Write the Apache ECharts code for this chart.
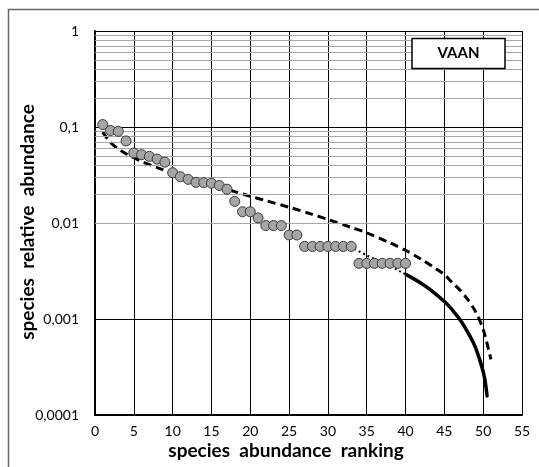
<!DOCTYPE html>
<html><head><meta charset="utf-8">
<script src="https://cdn.jsdelivr.net/npm/echarts@6/dist/echarts.min.js"></script>
<style>html,body{margin:0;padding:0;background:#fff}#c{width:539px;height:467px}</style>
</head><body><div id="c"></div>
<script>
// observed species (rank, relative abundance)
const ranks = [1,2,3,4,5,6,7,8,9,10,11,12,13,14,15,16,17,18,19,20,21,22,23,24,25,26,27,28,29,30,31,32,33,34,35,36,37,38,39,40];
const abundance = [0.106,0.092,0.090,0.0716,0.0537,0.0515,0.0494,0.0463,0.043,0.0334,
  0.0303,0.0285,0.0265,0.0263,0.026,0.0246,0.0225,0.0168,0.0131,0.0131,
  0.0113,0.0094,0.0094,0.0094,0.0075,0.0075,0.0057,0.0057,0.0057,0.0057,
  0.0057,0.0057,0.0057,0.0038,0.0038,0.0038,0.0038,0.0038,0.0038,0.0038];
// dashed model curve
const dashedRanks = [1,2,3,4,5,6,8,10,12,15,18,20,22,25,28,30,33,35,38,40,42,44,45,46,47,48,49,50,51];
const dashedValues = [0.0886,0.0690,0.0592,0.0527,0.0478,0.0438,0.0378,0.0331,0.0294,0.0249,0.0212,0.0190,0.0171,0.0146,0.0123,0.0109,0.0090,0.0079,0.0062,0.0052,0.0042,0.0033,0.0029,0.0024,0.0020,0.0016,0.0012,0.00078,0.00038];
// dotted fitted segment
const dottedRanks = [33.4,35,37,39.4,40.1];
const dottedValues = [0.0054,0.0046,0.0039,0.0031,0.0029];
// solid extrapolated curve
const solidRanks = [40.1,42,43.3,45,46,47.2,48.5,49,49.5,50.0,50.25,50.5];
const solidValues = [0.0029,0.00236,0.00199,0.00152,0.00125,0.000938,0.000617,0.000507,0.000389,0.000282,0.000226,0.000158];
// tick labels
const yTickLabels = ['0,0001','0,001','0,01','0,1','1'];
const xTitle = 'species  abundance  ranking';
const yTitle = 'species  relative  abundance';
const boxLabel = 'VAAN';

const minorLevels = [];
for (let e = -4; e < 0; e++) for (let m = 2; m <= 9; m++) minorLevels.push(+(m * Math.pow(10, e)).toPrecision(3));

const zip = (a, b) => a.map((x, i) => [x, b[i]]);
const FONT = 'Lato';

const chart = echarts.init(document.getElementById('c'), null, {renderer: 'canvas'});
chart.setOption({
  animation: false,
  backgroundColor: '#fff',
  grid: {left: 95, right: 17, top: 31, bottom: 52, show: false},
  xAxis: {
    type: 'value', min: 0, max: 55, interval: 5,
    axisLine: {show: true, onZero: false, lineStyle: {color: '#000', width: 2}},
    axisTick: {show: false},
    axisLabel: {color: '#000', fontSize: 14, fontFamily: FONT, margin: 9},
    splitLine: {show: true, lineStyle: {color: '#000', width: 1}}
  },
  yAxis: {
    type: 'log', logBase: 10, min: 0.0001, max: 1,
    axisLine: {show: true, onZero: false, lineStyle: {color: '#000', width: 2}},
    axisTick: {show: false},
    axisLabel: {color: '#000', fontSize: 14, fontFamily: FONT, margin: 16,
      formatter: v => yTickLabels[Math.round(Math.log10(v)) + 4]},
    splitLine: {show: true, lineStyle: {color: '#000', width: 1}},
    minorSplitLine: {show: false}
  },
  series: [
    {
      type: 'line', data: [], z: 1, silent: true,
      markLine: {
        silent: true, symbol: ['none', 'none'], label: {show: false}, animation: false,
        lineStyle: {color: '#a6a6a6', type: 'solid', width: 1},
        emphasis: {disabled: true},
        data: minorLevels.map(v => ({yAxis: v}))
      }
    },
    {
      type: 'line', data: zip(dashedRanks, dashedValues), smooth: 0.3, symbol: 'none', z: 3,
      lineStyle: {color: '#000', width: 3, type: [8, 5]}
    },
    {
      type: 'line', data: zip(dottedRanks, dottedValues), smooth: 0.3, symbol: 'none', z: 3,
      lineStyle: {color: '#000', width: 2, type: [2, 3]}
    },
    {
      type: 'line', data: zip(solidRanks, solidValues), smooth: 0.4, symbol: 'none', z: 3,
      lineStyle: {color: '#000', width: 3.5, type: 'solid', cap: 'round'}
    },
    {
      type: 'scatter', data: zip(ranks, abundance), symbol: 'circle', symbolSize: 10, z: 5,
      itemStyle: {color: '#a5a5a5', borderColor: '#3a3a3a', borderWidth: 1, opacity: 1}
    }
  ],
  graphic: [
    {type: 'rect', shape: {x: 8.5, y: 9.5, width: 800, height: 800}, style: {fill: 'none', stroke: '#666', lineWidth: 1.5}, z: 10, silent: true},
    {type: 'rect', shape: {x: 412, y: 38.5, width: 93, height: 30}, style: {fill: '#fff', stroke: '#000', lineWidth: 1.5}, z: 20, silent: true},
    {type: 'text', x: 458.5, y: 53.5, style: {text: boxLabel, fill: '#000', font: 'bold 15px ' + FONT, align: 'center', verticalAlign: 'middle'}, z: 21},
    {type: 'text', x: 286, y: 451, style: {text: xTitle, fill: '#000', font: 'bold 19px ' + FONT, align: 'center', verticalAlign: 'middle'}, z: 21},
    {type: 'text', x: 28, y: 222, rotation: Math.PI / 2, style: {text: yTitle, fill: '#000', font: 'bold 19px ' + FONT, align: 'center', verticalAlign: 'middle'}, z: 21}
  ]
});
</script>
</body></html>
